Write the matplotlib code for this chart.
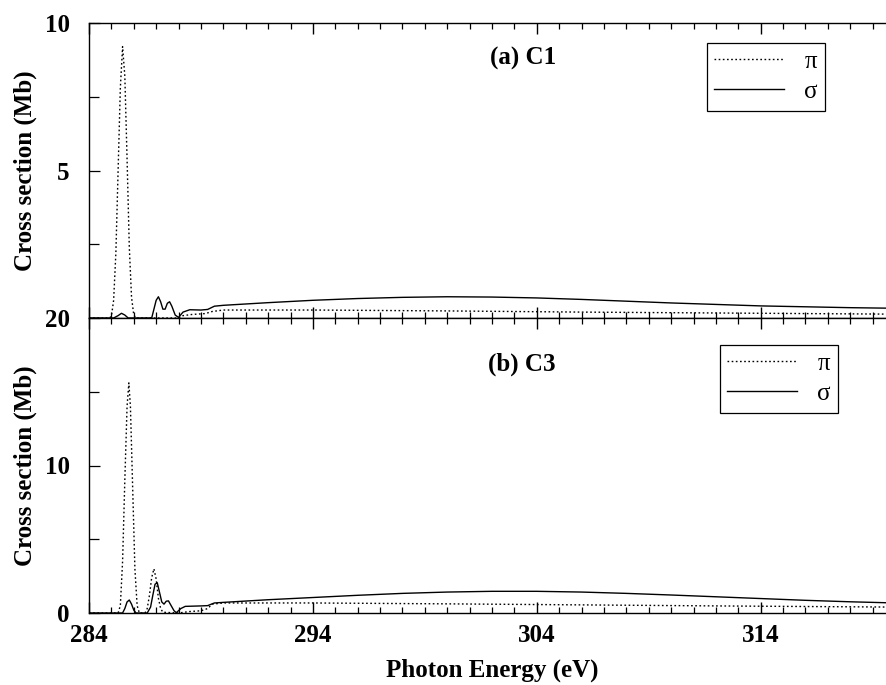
import numpy as np
import matplotlib.pyplot as plt
from matplotlib.ticker import MultipleLocator, FixedLocator

# (a) C1 - pi (dotted)
e_pi_a = [284.0, 284.9, 285.0, 285.1, 285.2, 285.3, 285.4, 285.5, 285.6, 285.7, 285.8, 285.9, 286.0, 286.1,
          288.0, 288.2, 288.6, 289.2, 289.5, 290.0, 294.0, 300.0, 306.0, 312.0, 320.0]
pi_a = [0.0, 0.0, 0.05, 0.6, 2.2, 5.0, 7.8, 9.2, 8.2, 5.4, 2.4, 0.7, 0.1, 0.0,
        0.0, 0.08, 0.12, 0.15, 0.22, 0.27, 0.27, 0.24, 0.2, 0.17, 0.13]

# (a) C1 - sigma (solid)
e_sig_a = [284.0, 285.1, 285.3, 285.45, 285.6, 285.75, 286.8, 286.9, 287.0, 287.1, 287.2, 287.3, 287.4,
           287.5, 287.6, 287.7, 287.85, 288.0, 288.2, 288.5, 289.0, 289.3, 289.6, 290.0, 292.0, 294.0,
           296.0, 298.0, 300.0, 302.0, 304.0, 306.0, 308.0, 310.0, 312.0, 314.0, 316.0, 318.0, 320.0]
sig_a = [0.0, 0.0, 0.08, 0.16, 0.1, 0.0, 0.0, 0.3, 0.6, 0.72, 0.55, 0.3, 0.3,
         0.5, 0.55, 0.4, 0.1, 0.02, 0.2, 0.28, 0.27, 0.29, 0.4, 0.43, 0.52, 0.6,
         0.66, 0.7, 0.72, 0.71, 0.68, 0.63, 0.57, 0.51, 0.46, 0.41, 0.38, 0.35, 0.33]

# (b) C3 - pi (dotted)
e_pi_b = [284.0, 285.3, 285.4, 285.5, 285.6, 285.7, 285.78, 285.85, 285.95, 286.05, 286.15, 286.25,
          286.5, 286.6, 286.7, 286.8, 286.9, 287.0, 287.1, 287.2, 287.3, 288.0, 288.5, 289.0, 289.3,
          289.5, 290.0, 294.0, 300.0, 306.0, 312.0, 320.0]
pi_b = [0.0, 0.0, 0.5, 3.5, 9.0, 14.0, 15.6, 14.0, 8.5, 3.0, 0.5, 0.0,
        0.0, 0.3, 1.2, 2.4, 3.0, 2.3, 1.0, 0.3, 0.05, 0.0, 0.1, 0.15, 0.3,
        0.6, 0.68, 0.68, 0.62, 0.55, 0.48, 0.4]

# (b) C3 - sigma (solid)
e_sig_b = [284.0, 285.5, 285.6, 285.7, 285.8, 285.9, 286.0, 286.1, 286.6, 286.75, 286.85, 286.95,
           287.05, 287.15, 287.25, 287.35, 287.45, 287.55, 287.65, 287.8, 287.9, 288.1, 288.3, 289.0,
           289.3, 289.6, 290.0, 292.0, 294.0, 296.0, 298.0, 300.0, 302.0, 304.0, 306.0, 308.0, 310.0,
           312.0, 314.0, 316.0, 318.0, 320.0]
sig_b = [0.0, 0.0, 0.3, 0.75, 0.88, 0.6, 0.2, 0.0, 0.0, 0.4, 1.2, 1.95,
         2.05, 1.4, 0.75, 0.6, 0.8, 0.82, 0.55, 0.15, 0.02, 0.3, 0.45, 0.48,
         0.5, 0.68, 0.72, 0.9, 1.05, 1.2, 1.33, 1.42, 1.47, 1.47, 1.42, 1.33, 1.22,
         1.1, 0.98, 0.86, 0.76, 0.68]

xticks = [284, 294, 304, 314]
yticks_a = [0, 5, 10]
ylabels_a = ['', '5', '10']   # the 0 sits under the "20" of panel (b)
yticks_b = [0, 10, 20]
ylabels_b = ['0', '10', '20']

plt.rcParams['font.family'] = ['Liberation Serif', 'DejaVu Serif']

fig = plt.figure(figsize=(8.87, 6.85), dpi=100)
L = 89/887.
W = (895-89)/887.
ax1 = fig.add_axes([L, 1-318/685., W, 295/685.])
ax2 = fig.add_axes([L, 1-613/685., W, 295/685.])

def style(ax, ymax, yt, ylab, ymin):
    ax.set_xlim(284, 320)
    ax.set_ylim(0, ymax)
    ax.xaxis.set_major_locator(FixedLocator(xticks))
    ax.xaxis.set_minor_locator(MultipleLocator(1))
    ax.set_yticks(yt)
    ax.set_yticklabels(ylab)
    ax.yaxis.set_minor_locator(MultipleLocator(ymin))
    ax.tick_params(axis='x', which='both', direction='in', top=True, bottom=True)
    ax.tick_params(axis='x', which='major', length=8, width=1)
    ax.tick_params(axis='x', which='minor', length=4, width=0.9)
    ax.tick_params(axis='y', which='major', direction='in', length=8, width=0.9, pad=14)
    ax.tick_params(axis='y', which='minor', direction='in', length=7, width=0.9)
    ax.tick_params(axis='y', right=False)
    ax.spines['right'].set_visible(False)
    for s in ('left', 'top', 'bottom'):
        ax.spines[s].set_linewidth(1.0)
    for lab in ax.get_yticklabels() + ax.get_xticklabels():
        lab.set_fontsize(18)
        lab.set_fontweight('bold')
    ax.set_ylabel('Cross section (Mb)', fontsize=18, fontweight='bold')
    ax.yaxis.set_label_coords((37-89)/806., 0.5)

dots = (0, (1.2, 1.8))

ax1.plot(e_pi_a, pi_a, color='black', ls=dots, lw=1.0, label='π')
ax1.plot(e_sig_a, sig_a, color='black', ls='-', lw=1.0, label='σ')
style(ax1, 10, yticks_a, ylabels_a, 2.5)
ax1.set_xticklabels([])
ax1.text(0.538, 0.881, '(a) C1', transform=ax1.transAxes, ha='center', va='center',
         fontsize=18, fontweight='bold')

ax2.plot(e_pi_b, pi_b, color='black', ls=dots, lw=1.0, label='π')
ax2.plot(e_sig_b, sig_b, color='black', ls='-', lw=1.0, label='σ')
style(ax2, 20, yticks_b, ylabels_b, 5)
ax2.tick_params(axis='x', which='major', pad=8)
ax2.text(0.537, 0.844, '(b) C3', transform=ax2.transAxes, ha='center', va='center',
         fontsize=18, fontweight='bold')
ax2.set_xlabel('Photon Energy (eV)', fontsize=18, fontweight='bold', labelpad=8)

for ax, corner in [(ax1, (707/887., 1-43/685.)), (ax2, (720/887., 1-345/685.))]:
    leg = ax.legend(loc='upper left', bbox_to_anchor=corner, bbox_transform=fig.transFigure,
                    borderaxespad=0, fancybox=False, edgecolor='black', framealpha=1,
                    prop={'size': 18}, handlelength=2.8, handletextpad=0.8,
                    borderpad=0.3, labelspacing=0.3)
    leg.get_frame().set_linewidth(0.9)

plt.savefig('out.png', dpi=100)
